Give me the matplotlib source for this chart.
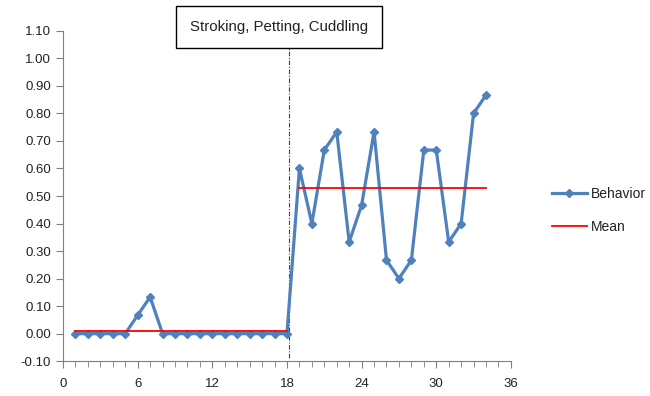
import matplotlib.pyplot as plt
import numpy as np

plt.rcParams['font.family'] = ['Liberation Sans', 'DejaVu Sans']

# session numbers and behavior proportions
sessions = list(range(1, 35))
behavior = [0, 0, 0, 0, 0, 0.067, 0.133, 0, 0, 0, 0, 0, 0, 0, 0, 0, 0, 0,
            0.6, 0.4, 0.667, 0.733, 0.333, 0.467, 0.733, 0.267, 0.2, 0.267,
            0.667, 0.667, 0.333, 0.4, 0.8, 0.867]

# phase means (baseline, intervention)
mean_x = [[1, 18], [19, 34]]
mean_y = [0.011, 0.53]

phase_change = 18.15
phase_label = 'Stroking, Petting, Cuddling'

xticks = [0, 6, 12, 18, 24, 30, 36]
yticks = np.round(np.arange(-0.1, 1.101, 0.1), 2)

fig = plt.figure(figsize=(6.5, 3.96), dpi=100)
ax = fig.add_axes([0.097, 0.088, 0.689, 0.834])

ax.plot(sessions, behavior, color='#4F81BD', lw=2.3, marker='D', ms=4,
        label='Behavior', zorder=3)
for i in range(len(mean_y)):
    ax.plot(mean_x[i], [mean_y[i], mean_y[i]], color='red', lw=1.3,
            label='Mean' if i == 0 else None, zorder=4)

ax.axvline(phase_change, ymin=0.01, ymax=1.04, color='#404040', lw=0.8,
           ls=(0, (4, 1.5, 1, 1.5)), clip_on=False, zorder=2)

ax.set_xlim(0, 36)
ax.set_ylim(-0.1, 1.1)
ax.set_xticks(xticks)
ax.set_xticks(range(0, 37), minor=True)
ax.set_yticks(yticks)
ax.set_yticklabels(['%.2f' % v for v in yticks])
ax.tick_params(axis='both', which='both', direction='out', labelsize=9.5,
               color='#808080', labelcolor='#222222')
ax.tick_params(axis='y', length=5)
ax.tick_params(axis='x', which='major', length=5, pad=7)
ax.tick_params(axis='x', which='minor', length=4)
for s in ['top', 'right']:
    ax.spines[s].set_visible(False)
for s in ['left', 'bottom']:
    ax.spines[s].set_color('#808080')

fig.text(0.429, 0.932, phase_label, fontsize=10.8, ha='center', va='center',
         color='#222222',
         bbox=dict(boxstyle='square,pad=0.95', fc='white', ec='black', lw=1))

fig.legend(loc='center left', bbox_to_anchor=(0.83, 0.468), frameon=False,
           fontsize=10, handlelength=2.5, labelspacing=1.35, handletextpad=0.3,
           labelcolor='#222222')

fig.savefig('out.png', dpi=100)
